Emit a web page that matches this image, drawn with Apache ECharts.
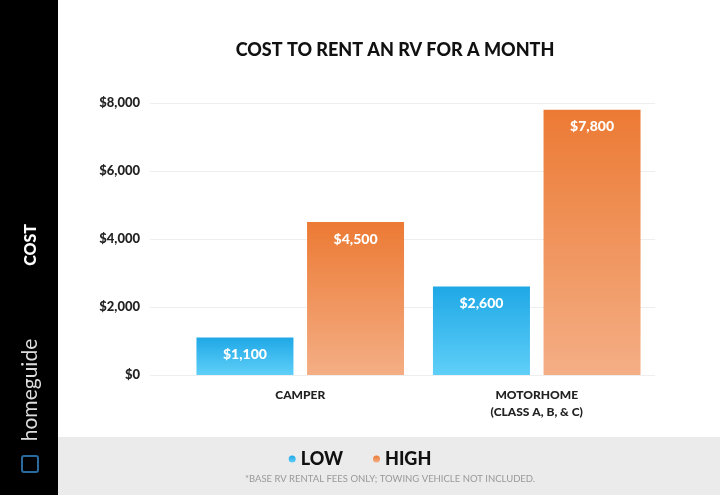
<!DOCTYPE html>
<html><head><meta charset="utf-8">
<script src="https://cdn.jsdelivr.net/npm/echarts@6/dist/echarts.min.js"></script>
<style>html,body{margin:0;padding:0;background:#fff}#c{width:720px;height:495px}</style>
</head><body><div id="c"></div>
<script>
const categories = ['CAMPER', 'MOTORHOME\n(CLASS A, B, & C)'];
const lowValues = [1100, 2600];
const highValues = [4500, 7800];
const yTicks = [0, 2000, 4000, 6000, 8000];

const chart = echarts.init(document.getElementById('c'));
const F = 'Lato, "Open Sans", sans-serif';
const grad = (a, b) => new echarts.graphic.LinearGradient(0, 0, 0, 1, [{offset: 0, color: a}, {offset: 1, color: b}]);
const lbl = {show: true, position: 'insideTop', distance: 10, color: '#fff', fontFamily: F, fontWeight: 900, fontSize: 14,
  formatter: p => '$' + p.value.toLocaleString('en-US')};
chart.setOption({
  animation: false,
  graphic: [
    {type: 'rect', shape: {x: 0, y: 0, width: 58, height: 495}, style: {fill: '#000'}},
    {type: 'rect', shape: {x: 58, y: 437, width: 662, height: 58}, style: {fill: '#ebebeb'}},
    {type: 'text', x: 31, y: 245, rotation: Math.PI / 2, style: {text: 'COST', fill: '#fff', font: '900 16px ' + F, align: 'center', verticalAlign: 'middle'}},
    {type: 'text', x: 30, y: 390, rotation: Math.PI / 2, style: {text: 'homeguide', fill: '#ddd', font: '21px ' + F, align: 'center', verticalAlign: 'middle'}},
    {type: 'rect', shape: {x: 22, y: 456, width: 16, height: 16, r: 2}, style: {fill: 'none', stroke: '#2a6aa0', lineWidth: 2}},
    {type: 'text', x: 390, y: 479, style: {text: '*BASE RV RENTAL FEES ONLY; TOWING VEHICLE NOT INCLUDED.', fill: '#999', font: '9.5px ' + F, align: 'center', verticalAlign: 'middle'}}
  ],
  title: {text: 'COST TO RENT AN RV FOR A MONTH', left: 390, top: 36, textAlign: 'center',
    textStyle: {fontFamily: F, fontWeight: 900, fontSize: 18, color: '#111'}},
  legend: {bottom: 22, left: 'center', itemGap: 30, icon: 'circle', itemWidth: 7, itemHeight: 7,
    textStyle: {fontFamily: F, fontWeight: 900, fontSize: 18, color: '#111'},
    data: ['LOW', 'HIGH']},
  grid: [
    {left: 150, right: 65, top: 103, bottom: 120},
    {left: 182, right: 65, top: 103, bottom: 120}
  ],
  xAxis: [
    {gridIndex: 0, type: 'category', show: false, data: categories},
    {gridIndex: 1, type: 'category', data: categories, axisLine: {show: false}, axisTick: {show: false},
      axisLabel: {margin: 12, fontFamily: F, fontWeight: 900, fontSize: 12, color: '#222', lineHeight: 17}}
  ],
  yAxis: [
    {gridIndex: 0, type: 'value', min: 0, max: 8000, interval: 2000,
      axisLabel: {margin: 10, fontFamily: F, fontWeight: 900, fontSize: 13, color: '#222',
        formatter: v => yTicks.includes(v) ? '$' + v.toLocaleString('en-US') : ''},
      splitLine: {lineStyle: {color: '#eee'}}, axisLine: {show: false}, axisTick: {show: false}},
    {gridIndex: 1, type: 'value', min: 0, max: 8000, show: false, splitLine: {show: false}}
  ],
  series: [
    {name: 'LOW', type: 'bar', xAxisIndex: 1, yAxisIndex: 1, data: lowValues, barWidth: 97, barGap: '14%',
      itemStyle: {color: grad('#1fa8e6', '#5fcff8')}, label: lbl},
    {name: 'HIGH', type: 'bar', xAxisIndex: 1, yAxisIndex: 1, data: highValues, barWidth: 97,
      itemStyle: {color: grad('#ec7a34', '#f4ae85')}, label: lbl}
  ],
  color: ['#29b3ee', '#ef8a4a']
});
</script></body></html>
